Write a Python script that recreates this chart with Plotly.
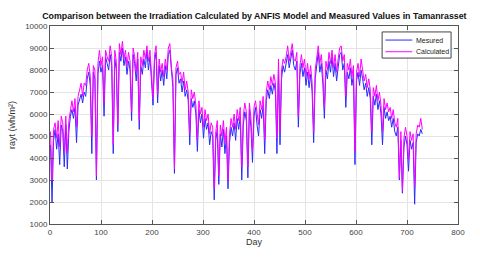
import plotly.graph_objects as go

# Day index (one sample every 3 days over the two years)
DAYS = list(range(1, 731, 3))

MEASURED = [
    4600, 2000, 4800, 5300, 4400, 5100, 3700, 5500, 5200, 3600,
    5500, 3500, 5200, 5900, 6200, 5800, 6300, 4700, 6400, 6700,
    6900, 6500, 7000, 6800, 7600, 7900, 7300, 4200, 7900, 7600,
    3000, 7800, 8400, 7900, 8200, 5900, 8600, 8300, 8000, 8700,
    8200, 4200, 8500, 8000, 5200, 8800, 8400, 9000, 8200, 8600,
    7800, 8400, 8000, 5700, 8700, 8300, 7500, 8500, 5300, 8200,
    7800, 8500, 8100, 8900, 8000, 8600, 7600, 6400, 8400, 8800,
    6500, 8200, 7500, 8000, 7300, 8200, 7600, 8700, 8900, 7800,
    7200, 3300, 7800, 8100, 7400, 7600, 7000, 7500, 6800, 7100,
    6600, 4600, 6700, 6300, 6600, 6000, 4300, 6200, 5600, 6000,
    4900, 5800, 5300, 5600, 4600, 5200, 5000, 2100, 4800, 5300,
    2800, 5100, 4500, 5300, 4200, 5000, 2600, 4700, 5400, 5000,
    5600, 4800, 5800, 5300, 5900, 3000, 5500, 6100, 5700, 3100,
    6200, 5400, 3800, 5900, 6300, 5500, 5000, 6200, 5800, 6400,
    4200, 6600, 7100, 6700, 7300, 6900, 7400, 7000, 4200, 8000,
    4600, 7600, 8200, 7900, 8300, 8700, 8100, 8500, 8900, 8200,
    8000, 8400, 5400, 7800, 8300, 7700, 8100, 7300, 7900, 7200,
    7800, 7000, 4700, 7600, 8200, 8800, 7900, 8300, 7400, 5800,
    8000, 7600, 8400, 7900, 8600, 7700, 8300, 7500, 8100, 8700,
    8800, 8000, 8300, 6300, 7900, 7600, 8100, 7300, 7800, 3700,
    7500, 7900, 7300, 8000, 7600, 7100, 7400, 6800, 7200, 6700,
    4600, 6800, 6400, 6900, 6200, 6600, 6000, 4600, 6300, 5800,
    6100, 5700, 5900, 5400, 5800, 5200, 5000, 5400, 3000, 4800,
    2400, 4500, 5000, 4600, 3400, 4800, 4400, 4700, 1900, 4700,
    5100, 5000, 5300, 5100,
]

CALCULATED = [
    5200, 3000, 5300, 5600, 4900, 5700, 4500, 5900, 5600, 4300,
    5900, 4200, 5700, 6200, 6600, 6100, 6700, 5400, 6800, 7100,
    7400, 6800, 7400, 7300, 8000, 8300, 7700, 5000, 8200, 8000,
    3200, 8300, 8900, 8200, 8600, 6500, 8900, 8600, 8400, 9100,
    8600, 4600, 8900, 8400, 5500, 9200, 8700, 9300, 8500, 8900,
    8200, 8800, 8400, 6100, 9000, 8600, 7900, 8800, 5700, 8600,
    8200, 8900, 8500, 9100, 8400, 8900, 8000, 6700, 8700, 9100,
    6900, 8500, 7900, 8300, 7700, 8500, 8000, 9000, 9200, 8100,
    7600, 3500, 8100, 8400, 7800, 7900, 7400, 7900, 7100, 7500,
    7000, 5100, 7100, 6700, 7000, 6400, 4800, 6600, 6000, 6300,
    5400, 6200, 5700, 6000, 5100, 5600, 5400, 2600, 5200, 5700,
    3200, 5500, 5000, 5700, 4700, 5400, 3000, 5100, 5800, 5400,
    6000, 5300, 6200, 5700, 6300, 3600, 5900, 6500, 6100, 3600,
    6500, 5800, 4300, 6300, 6600, 5900, 5500, 6600, 6200, 6800,
    4800, 7000, 7500, 7100, 7700, 7300, 7800, 7400, 4900, 8500,
    5200, 8000, 8500, 8300, 8600, 9100, 8400, 8800, 9200, 8500,
    8400, 8800, 5900, 8200, 8700, 8100, 8500, 7700, 8300, 7600,
    8200, 7400, 5200, 8000, 8600, 9100, 8300, 8700, 7800, 6300,
    8400, 8000, 8800, 8300, 8900, 8100, 8700, 7900, 8500, 9000,
    9100, 8400, 8700, 6800, 8300, 8000, 8500, 7700, 8200, 4300,
    7900, 8300, 7700, 8500, 8000, 7500, 7800, 7200, 7600, 7100,
    5200, 7200, 6800, 7300, 6600, 7000, 6400, 5200, 6700, 6200,
    6500, 6100, 6300, 5800, 6200, 5600, 5400, 5800, 3100, 5200,
    2500, 4900, 5400, 5000, 3900, 5200, 4800, 5100, 2700, 5100,
    5500, 5400, 5800, 5300,
]

SERIES_NAMES = ["Mesured", "Calculated"]
SERIES_COLORS = ["#2a2aff", "#ff00ff"]

X_TICKS = [0, 100, 200, 300, 400, 500, 600, 700, 800]
Y_TICKS = [1000, 2000, 3000, 4000, 5000, 6000, 7000, 8000, 9000, 10000]
Y_TICK_LABELS = [str(v) for v in Y_TICKS]

FONT = "Arial, Liberation Sans, sans-serif"

fig = go.Figure()
for name, vals, col in zip(SERIES_NAMES, [MEASURED, CALCULATED], SERIES_COLORS):
    fig.add_trace(go.Scatter(x=DAYS, y=vals, mode="lines", name=name,
                             line=dict(color=col, width=1), showlegend=False,
                             hoverinfo="skip"))

axis_common = dict(showgrid=True, gridcolor="#e4e4e4", gridwidth=1,
                   showline=True, linecolor="#555555", linewidth=1, mirror="ticks",
                   ticks="inside", ticklen=4, tickcolor="#555555",
                   tickfont=dict(family=FONT, size=8, color="#444444"),
                   zeroline=False, automargin=False)

# legend box drawn in paper coordinates (compact, like the reference)
LEG_X0, LEG_X1, LEG_Y0, LEG_Y1 = 0.814, 0.983, 0.838, 0.970
LEG_ROWS = [0.929, 0.870]
shapes = [dict(type="rect", xref="paper", yref="paper", x0=LEG_X0, x1=LEG_X1,
               y0=LEG_Y0, y1=LEG_Y1, line=dict(color="#444444", width=1),
               fillcolor="white", layer="above")]
annotations = []
for name, col, yr in zip(SERIES_NAMES, SERIES_COLORS, LEG_ROWS):
    shapes.append(dict(type="line", xref="paper", yref="paper", x0=0.822, x1=0.888,
                       y0=yr, y1=yr, line=dict(color=col, width=1), layer="above"))
    annotations.append(dict(xref="paper", yref="paper", x=0.891, y=yr, text=name,
                            showarrow=False, xanchor="left", yanchor="middle",
                            font=dict(family=FONT, size=7, color="#222222")))

fig.update_layout(
    width=480, height=257,
    margin=dict(l=50, r=22, t=26, b=33),
    paper_bgcolor="white", plot_bgcolor="white",
    title=dict(text="<b>Comparison between the Irradiation Calculated by ANFIS Model and Measured Values in Tamanrasset</b>",
               x=0.53, xanchor="center", y=0.938, yanchor="middle",
               font=dict(family=FONT, size=8.8, color="#111111")),
    xaxis=dict(range=[0, 800], tickvals=X_TICKS,
               title=dict(text="Day", standoff=3,
                          font=dict(family=FONT, size=9, color="#333333")),
               **axis_common),
    yaxis=dict(range=[1000, 10000], tickvals=Y_TICKS, ticktext=Y_TICK_LABELS,
               title=dict(text="rayt (wh/m²)", standoff=8,
                          font=dict(family=FONT, size=9, color="#333333")),
               **axis_common),
    shapes=shapes,
    annotations=annotations,
    showlegend=False,
    hovermode=False,
)

fig.write_html("out.html", config={"displayModeBar": False, "staticPlot": True},
               post_script="document.body.style.margin='0px';document.body.style.padding='0px';")
